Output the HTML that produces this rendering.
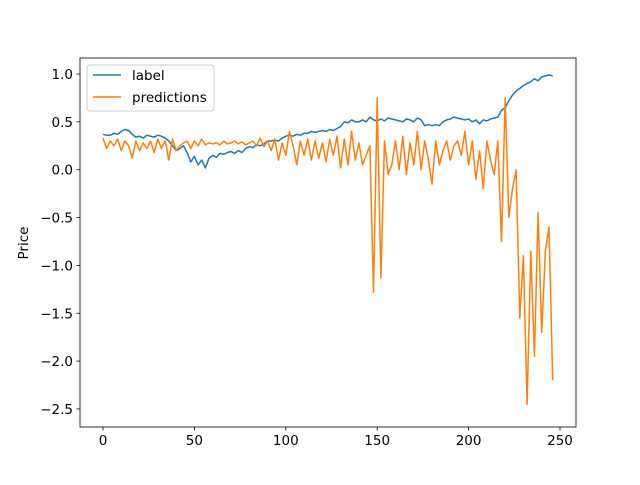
<!DOCTYPE html>
<html><head><meta charset="utf-8"><style>
body{margin:0;background:#fff}
svg{font-family:"DejaVu Sans","Liberation Sans",sans-serif;font-size:13.5px}
</style></head><body>
<svg id="chart" width="640" height="480">
<rect width="640" height="480" fill="#fff"/>
<g id="plot"></g>
</svg>
<script>
const xStep = 2;
const labelValues = [0.37,0.36,0.36,0.38,0.37,0.40,
0.42,0.41,0.37,0.34,0.35, 0.33,0.36,0.35,0.34,0.36, 0.35,0.33,0.30,0.25,0.20,
0.22,0.25,0.18,0.08,0.14, 0.05,0.10,0.02,0.12,0.15, 0.13,0.17,0.16,0.18,0.19,
0.17,0.20,0.18,0.22,0.24, 0.23,0.26,0.25,0.27,0.30, 0.30,0.31,0.30,0.33,0.35,
0.36,0.35,0.37,0.36,0.38, 0.38,0.40,0.39,0.40,0.41, 0.40,0.42,0.41,0.43,0.45,
0.50,0.49,0.52,0.50,0.50, 0.52,0.50,0.55,0.52,0.51, 0.53,0.51,0.54,0.53,0.52,
0.51,0.50,0.53,0.52,0.50, 0.54,0.52,0.46,0.47,0.46, 0.47,0.46,0.50,0.52,0.53,
0.55,0.54,0.53,0.52,0.53, 0.50,0.52,0.48,0.52,0.51, 0.53,0.54,0.55,0.62,0.65,
0.72,0.78,0.82,0.85,0.88, 0.90,0.92,0.95,0.93,0.97, 0.98,0.99,0.98];
const predValues = [0.33,0.22,0.30,0.25,0.32,0.20,
0.30,0.25,0.12,0.30,0.20, 0.28,0.22,0.30,0.18,0.32, 0.22,0.30,0.10,0.32,0.20,
0.25,0.28,0.30,0.22,0.30, 0.25,0.32,0.26,0.28,0.27, 0.28,0.26,0.30,0.27,0.28,
0.30,0.27,0.29,0.26,0.28, 0.30,0.25,0.33,0.24,0.30, 0.20,0.32,0.10,0.28,0.15,
0.40,0.25,0.05,0.30,0.15, 0.32,0.10,0.30,0.12,0.28, 0.08,0.32,0.15,0.35,0.02,
0.32,0.05,0.40,0.10,0.28, 0.05,0.15,0.25,-1.28,0.75, -1.13,0.30,-0.05,0.05,0.30,
0.0,0.35,-0.05,0.28,0.05, 0.40,0.0,0.30,0.10,-0.15, 0.30,0.05,0.20,0.30,0.10,
0.25,0.30,0.15,0.40,0.05, 0.30,-0.10,0.20,-0.20,0.30, 0.10,-0.05,0.30,-0.75,0.75,
-0.50,-0.20,0.0,-1.55,-0.90, -2.45,-0.85,-1.95,-0.45,-1.70, -0.85,-0.60,-2.20];
const xTicks = [0,50,100,150,200,250];
const yTicks = [1.0,0.5,0.0,-0.5,-1.0,-1.5,-2.0,-2.5];

const L=80,R=576,T=58,B=427;
const xs = v => 103 + v*(457/250);
const ys = v => 169.7 - v*95.7;
const NS="http://www.w3.org/2000/svg";
const g=document.getElementById('plot');
function mk(tag,attrs,parent){const e=document.createElementNS(NS,tag);for(const k in attrs)e.setAttribute(k,attrs[k]);(parent||g).appendChild(e);return e;}

function series(vals,color,name){
  const d=vals.map((v,i)=>(i?'L':'M')+xs(i*xStep).toFixed(1)+','+ys(v).toFixed(1)).join('');
  const p=mk('path',{d:d,fill:'none',stroke:color,'stroke-width':1.5,'stroke-linejoin':'round'});
  
  
}
series(labelValues,'#1f77b4','label-line');
series(predValues,'#ff7f0e','predictions-line');

const frame=mk('rect',{x:L,y:T,width:R-L,height:B-T,fill:'none',stroke:'#000','stroke-width':0.8});



xTicks.forEach(t=>{
  const x=xs(t);
  const tk=mk('line',{x1:x,x2:x,y1:B,y2:B+3.5,stroke:'#000','stroke-width':0.8});
  
  
  const tx=mk('text',{x:x,y:B+18,'text-anchor':'middle',fill:'#000'});
  tx.textContent=t;
  
  
});
yTicks.forEach(t=>{
  const y=ys(t);
  const tk=mk('line',{x1:L-3.5,x2:L,y1:y,y2:y,stroke:'#000','stroke-width':0.8});
  
  
  const tx=mk('text',{x:L-7,y:y+5,'text-anchor':'end',fill:'#000'});
  tx.textContent=(t<0?'\u2212':'')+Math.abs(t).toFixed(1);
  
  
});
const yt=mk('text',{x:28,y:243,'text-anchor':'middle',transform:'rotate(-90 28 243)',fill:'#000'});
yt.textContent='Price';



const lg=mk('g',{});


mk('rect',{x:87,y:65,width:127,height:46,rx:3,fill:'#fff','fill-opacity':0.8,stroke:'#ccc','stroke-width':1},lg);
[['label','#1f77b4',75],['predictions','#ff7f0e',97]].forEach(([n,c,y])=>{
  const e=mk('g',{},lg);
  
  
  mk('line',{x1:93,x2:121,y1:y,y2:y,stroke:c,'stroke-width':1.5},e);
  const t=mk('text',{x:132,y:y+5,fill:'#000'},e);
  t.textContent=n;
});
</script>
</body></html>
